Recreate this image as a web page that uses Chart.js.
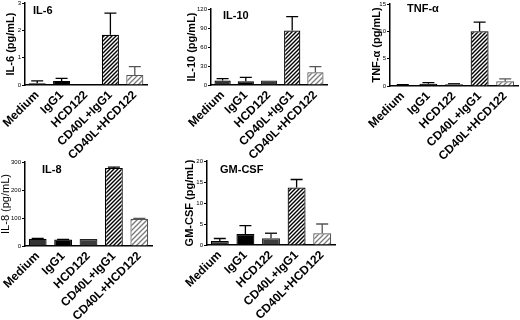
<!DOCTYPE html>
<html>
<head>
<meta charset="utf-8">
<script src="https://cdn.jsdelivr.net/npm/chart.js@4.4.1/dist/chart.umd.min.js"></script>
<style>
html,body{margin:0;padding:0;background:#fff;}
body{width:520px;height:320px;overflow:hidden;position:relative;}
canvas{position:absolute;}
</style>
</head>
<body>
<canvas id="c0"></canvas>
<canvas id="c1"></canvas>
<canvas id="c2"></canvas>
<canvas id="c3"></canvas>
<canvas id="c4"></canvas>
<script>
/* ===== data ===== */
const categories = ['Medium','IgG1','HCD122','CD40L+IgG1','CD40L+HCD122'];
const il6   = [0.06, 0.15, 0, 1.84, 0.37];
const il6Err= [0.09, 0.09, 0, 0.79, 0.30];
const il10   = [7, 6, 7, 86, 20];
const il10Err= [3, 6, 0, 22, 9];
const tnf   = [0.18, 0.4, 0.3, 10, 0.85];
const tnfErr= [0.05, 0.2, 0.15, 1.7, 0.45];
const il8   = [26, 23, 25, 279, 97];
const il8Err= [1, 1, 0, 3, 2];
const gm    = [0.95, 2.6, 1.6, 13.7, 2.8];
const gmErr = [0.6, 2.0, 1.2, 1.9, 2.2];
const titles  = ['IL-6','IL-10','TNF-\u03b1','IL-8','GM-CSF'];
const yTitles = ['IL-6 (pg/mL)','IL-10 (pg/mL)','TNF-\u03b1 (pg/mL)','IL-8 (pg/mL)','GM-CSF (pg/mL)'];
const yMax  = [3, 120, 15, 300, 20];
const yStep = [1, 30, 5, 100, 5];

/* ===== layout ===== */
const FONT = '"Liberation Sans", Arial, Helvetica, sans-serif';
const AL = 45, PT = 15, PR = 8, XB = 75;
const panels = [
  {data:il6,  err:il6Err,  area:[25,3,147,85],    at:[8,8],  yTx:11,  yBold:true},
  {data:il10, err:il10Err, area:[211,9,327,85],   at:[12,7], yTx:192, yBold:true},
  {data:tnf,  err:tnfErr,  area:[390,4,518,86],   at:[17,5], yTx:377, yBold:true},
  {data:il8,  err:il8Err,  area:[25,162,152,246], at:[17,8], yTx:6,   yBold:false},
  {data:gm,   err:gmErr,   area:[207,161,335,245],at:[13,9], yTx:190, yBold:true}
];

function hatch(size, color, lw){
  const c = document.createElement('canvas');
  c.width = c.height = size;
  const g = c.getContext('2d');
  g.fillStyle = '#fff'; g.fillRect(0,0,size,size);
  g.strokeStyle = color; g.lineWidth = lw;
  g.beginPath();
  g.moveTo(0,size); g.lineTo(size,0);
  g.moveTo(-size/2,size/2); g.lineTo(size/2,-size/2);
  g.moveTo(size/2,size*1.5); g.lineTo(size*1.5,size/2);
  g.stroke();
  return g.createPattern(c,'repeat');
}
const fills   = ['#333', '#000', '#3c3c3c', hatch(4,'#000',1.4), hatch(5,'#7a7a7a',1.3)];
const borders = ['#000', '#000', '#222', '#000', '#555'];

const errPlugin = {
  id:'errbars',
  afterDatasetsDraw(chart, args, o){
    const {ctx, chartArea} = chart, y = chart.scales.y;
    const meta = chart.getDatasetMeta(0), ds = chart.data.datasets[0];
    ctx.save();
    ctx.lineWidth = 1.3;
    meta.data.forEach((bar,i)=>{
      const e = o.err[i]; if(!e) return;
      const top = y.getPixelForValue(ds.data[i]+e);
      ctx.strokeStyle = borders[i];
      ctx.beginPath();
      ctx.moveTo(bar.x, bar.y); ctx.lineTo(bar.x, top);
      ctx.moveTo(bar.x-6, top); ctx.lineTo(bar.x+6, top);
      ctx.stroke();
    });
    ctx.fillStyle = '#000';
    ctx.font = 'bold 11px ' + FONT;
    ctx.textBaseline = 'middle';
    ctx.fillText(o.title, chartArea.left+o.at[0], chartArea.top+o.at[1]);
    ctx.restore();
  }
};

panels.forEach((p,k)=>{
  const [l,t,r,b] = p.area;
  const cv = document.getElementById('c'+k);
  const W = r-l+AL+PR, H = b-t+PT+XB;
  cv.width = W; cv.height = H;
  cv.style.left = (l-AL)+'px'; cv.style.top = (t-PT)+'px';
  cv.style.width = W+'px'; cv.style.height = H+'px';
  new Chart(cv,{
    type:'bar',
    data:{labels:categories, datasets:[{data:p.data, backgroundColor:fills, borderColor:borders,
      borderWidth:1.2, barPercentage:0.7, categoryPercentage:1}]},
    plugins:[errPlugin],
    options:{
      responsive:false, animation:false,
      layout:{padding:{top:PT,right:PR,left:0,bottom:0}},
      plugins:{legend:{display:false}, tooltip:{enabled:false},
        errbars:{err:p.err, title:titles[k], at:p.at}},
      scales:{
        x:{z:1, grid:{display:false, drawTicks:false},
          border:{color:'#000', width:1.5},
          ticks:{color:'#000', font:{family:FONT, size:12, weight:'bold'}, minRotation:45, maxRotation:45, autoSkip:false, padding:3},
          afterFit:s=>{s.height = XB;}},
        y:{min:0, max:yMax[k], z:1,
          grid:{drawOnChartArea:false, drawTicks:true, tickLength:3, color:'#000', lineWidth:1},
          border:{color:'#000', width:1.5},
          ticks:{stepSize:yStep[k], color:'#000', font:{family:FONT, size:6}, padding:1},
          title:{display:true, text:yTitles[k], color:'#000',
            font:{family:FONT, size:11, weight:p.yBold?'bold':'normal'},
            padding:{top:p.yTx-l+AL-6.6, bottom:0}},
          afterFit:s=>{s.width = AL;}}
      }
    }
  });
});
</script>
</body>
</html>
